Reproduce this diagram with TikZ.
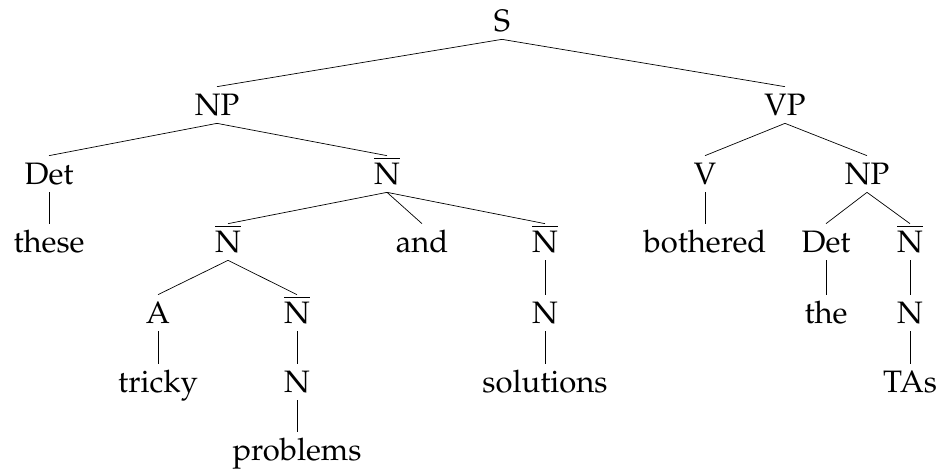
\documentclass[tikz,border=0pt]{standalone}
\usepackage[T1]{fontenc}
\usepackage{mathpazo}
\usepackage{tikz}

\newcommand{\nbar}{$\overline{\mbox{N}}$}

\begin{document}
\begin{tikzpicture}[x=1pt,y=-1pt,line width=0.7pt,
  cat/.style={anchor=base,font=\fontsize{31}{36}\selectfont,
    text height=24pt,text depth=4pt,inner ysep=4pt,inner xsep=0pt}]
\useasboundingbox (0,0) rectangle (941,472);

% Top levels
\node[cat] (s) at (502,31) {S};
\node[cat] (np) at (217,115) {NP};
\node[cat] (vp) at (785,115) {VP};

% Subject NP
\node[cat] (det) at (49,184) {Det};
\node[cat] (nbara) at (387,184) {\nbar};
\node[cat] (these) at (49,252) {these};
\node[cat] (nbarb) at (228,252) {\nbar};
\node[cat] (and) at (422,252) {and};
\node[cat] (nbarc) at (545,252) {\nbar};
\node[cat] (adj) at (158,323) {A};
\node[cat] (nbare) at (297,323) {\nbar};
\node[cat] (nc) at (545,323) {N};
\node[cat] (tricky) at (158,392) {tricky};
\node[cat] (ne) at (297,392) {N};
\node[cat] (solutions) at (545,392) {solutions};
\node[cat] (problems) at (297,460) {problems};

% Predicate VP
\node[cat] (verb) at (705,184) {V};
\node[cat] (npr) at (867,184) {NP};
\node[cat] (bothered) at (705,252) {bothered};
\node[cat] (detr) at (826,252) {Det};
\node[cat] (nbard) at (910,252) {\nbar};
\node[cat] (the) at (826,323) {the};
\node[cat] (nd) at (910,323) {N};
\node[cat] (tas) at (910,392) {TAs};

% Branches
\draw (s.south) -- (np.north);
\draw (s.south) -- (vp.north);
\draw (np.south) -- (det.north);
\draw (np.south) -- (nbara.north);
\draw (det.south) -- (these.north);
\draw (nbara.south) -- (nbarb.north);
\draw (nbara.south) -- (and.north);
\draw (nbara.south) -- (nbarc.north);
\draw (nbarb.south) -- (adj.north);
\draw (nbarb.south) -- (nbare.north);
\draw (adj.south) -- (tricky.north);
\draw (nbare.south) -- (ne.north);
\draw (ne.south) -- (problems.north);
\draw (nbarc.south) -- (nc.north);
\draw (nc.south) -- (solutions.north);
\draw (vp.south) -- (verb.north);
\draw (vp.south) -- (npr.north);
\draw (verb.south) -- (bothered.north);
\draw (npr.south) -- (detr.north);
\draw (npr.south) -- (nbard.north);
\draw (detr.south) -- (the.north);
\draw (nbard.south) -- (nd.north);
\draw (nd.south) -- (tas.north);
\end{tikzpicture}
\end{document}
